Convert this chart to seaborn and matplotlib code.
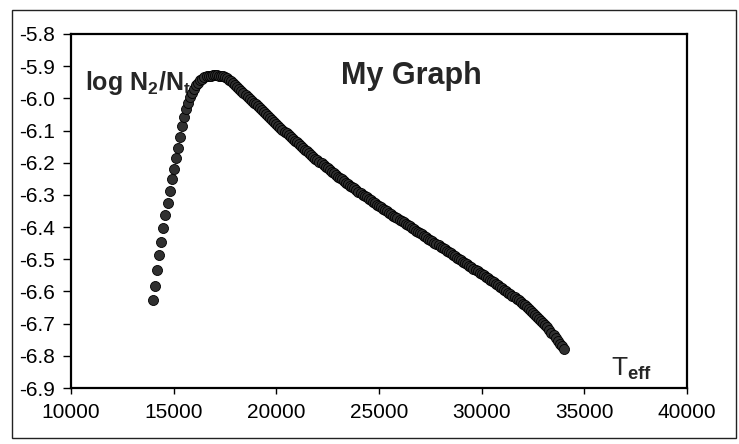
import matplotlib
matplotlib.use("Agg")
import matplotlib.pyplot as plt
import seaborn as sns
import pandas as pd
import numpy as np
from matplotlib.patches import Rectangle

# ---- data ----
teff_start = 14000
teff_step = 100
log_n2_rise = [  # 14000 .. 16900
    -6.626, -6.584, -6.533, -6.487, -6.445, -6.403, -6.362, -6.324, -6.289, -6.251,
    -6.218, -6.186, -6.155, -6.120, -6.087, -6.058, -6.034, -6.014, -5.997, -5.983,
    -5.971, -5.960, -5.951, -5.944, -5.939, -5.935, -5.932, -5.930, -5.929, -5.928,
]
log_n2_fall = [  # 17000 .. 34000
    -5.928, -5.928, -5.929, -5.930, -5.932, -5.935, -5.938, -5.942, -5.947, -5.953,
    -5.959, -5.965, -5.971, -5.977, -5.983, -5.989, -5.995, -6.001, -6.007, -6.013,
    -6.019, -6.025, -6.031, -6.037, -6.043, -6.049, -6.055, -6.061, -6.067, -6.073,
    -6.079, -6.085, -6.091, -6.097, -6.103, -6.108, -6.114, -6.120, -6.126, -6.131,
    -6.137, -6.143, -6.148, -6.154, -6.159, -6.165, -6.170, -6.176, -6.181, -6.187,
    -6.192, -6.197, -6.202, -6.207, -6.212, -6.217, -6.223, -6.228, -6.233, -6.238,
    -6.243, -6.248, -6.252, -6.257, -6.262, -6.266, -6.271, -6.276, -6.280, -6.285,
    -6.290, -6.294, -6.299, -6.303, -6.308, -6.312, -6.316, -6.321, -6.325, -6.330,
    -6.334, -6.338, -6.343, -6.347, -6.351, -6.355, -6.360, -6.364, -6.368, -6.373,
    -6.377, -6.381, -6.385, -6.390, -6.394, -6.398, -6.402, -6.406, -6.411, -6.415,
    -6.419, -6.423, -6.427, -6.432, -6.436, -6.440, -6.444, -6.448, -6.453, -6.457,
    -6.461, -6.465, -6.469, -6.474, -6.478, -6.482, -6.486, -6.490, -6.495, -6.499,
    -6.503, -6.507, -6.512, -6.516, -6.520, -6.525, -6.529, -6.533, -6.537, -6.542,
    -6.546, -6.550, -6.555, -6.559, -6.564, -6.568, -6.572, -6.577, -6.581, -6.586,
    -6.590, -6.595, -6.599, -6.604, -6.609, -6.614, -6.618, -6.623, -6.628, -6.633,
    -6.638, -6.643, -6.649, -6.654, -6.660, -6.666, -6.672, -6.678, -6.685, -6.691,
    -6.698, -6.705, -6.712, -6.720, -6.728, -6.736, -6.745, -6.753, -6.762, -6.771,
    -6.780,
]
x_ticks = [10000, 15000, 20000, 25000, 30000, 35000, 40000]
y_ticks = [-5.8, -5.9, -6.0, -6.1, -6.2, -6.3, -6.4, -6.5, -6.6, -6.7, -6.8, -6.9]
title_text = "My Graph"
y_label_text = r"log N$_\mathbf{2}$/N$_\mathbf{t}$"
x_label_text = r"T$_\mathbf{eff}$"

log_n2 = log_n2_rise + log_n2_fall
teff = [teff_start + teff_step * i for i in range(len(log_n2))]
df = pd.DataFrame({"Teff": teff, "logN2": log_n2})

sns.set_style("white")
plt.rcParams["font.family"] = ["Liberation Sans", "DejaVu Sans"]
plt.rcParams["mathtext.fontset"] = "custom"
plt.rcParams["mathtext.rm"] = "Liberation Sans"
plt.rcParams["mathtext.it"] = "Liberation Sans"
plt.rcParams["mathtext.bf"] = "Liberation Sans:bold"

W, H = 739, 444
fig = plt.figure(figsize=(W / 100, H / 100), dpi=100)
fig.patch.set_facecolor("white")

# outer chart frame
fig.patches.append(Rectangle((12 / W, 1 - 438 / H), (736 - 12) / W, (438 - 10) / H,
                             transform=fig.transFigure, fill=False,
                             edgecolor="#222222", linewidth=1.0))

ax = fig.add_axes([71 / W, 1 - 388 / H, (687 - 71) / W, (388 - 34) / H])
ax.set_facecolor("white")

ax.text(0.022, 0.843, y_label_text, transform=ax.transAxes,
        fontsize=18, fontweight="bold", ha="left", va="baseline", zorder=1)

sns.scatterplot(data=df, x="Teff", y="logN2", ax=ax, s=52, marker="o",
                color="#303030", edgecolor="black", linewidth=0.6, zorder=3,
                legend=False)

ax.set_xlim(10000, 40000)
ax.set_ylim(-6.9, -5.8)
ax.set_xticks(x_ticks)
ax.set_yticks(y_ticks)
ax.set_xticklabels([str(v) for v in x_ticks])
ax.set_yticklabels([f"{v:.1f}" for v in y_ticks])
ax.set_xlabel("")
ax.set_ylabel("")

for side in ["left", "bottom", "top", "right"]:
    ax.spines[side].set_visible(True)
    ax.spines[side].set_color("black")
    ax.spines[side].set_linewidth(1.6)

ax.tick_params(axis="y", which="major", direction="out", length=5.5, width=1,
               pad=6, labelsize=15, colors="black", left=True)
ax.tick_params(axis="x", which="major", direction="out", length=4, width=1,
               pad=7, labelsize=15, colors="black", bottom=True)

ax.text(0.553, 0.86, title_text, transform=ax.transAxes, fontsize=22,
        fontweight="bold", ha="center", va="baseline")
ax.text(0.877, 0.035, x_label_text, transform=ax.transAxes, fontsize=19,
        ha="left", va="baseline")

fig.savefig("out.png", dpi=100, facecolor="white")
